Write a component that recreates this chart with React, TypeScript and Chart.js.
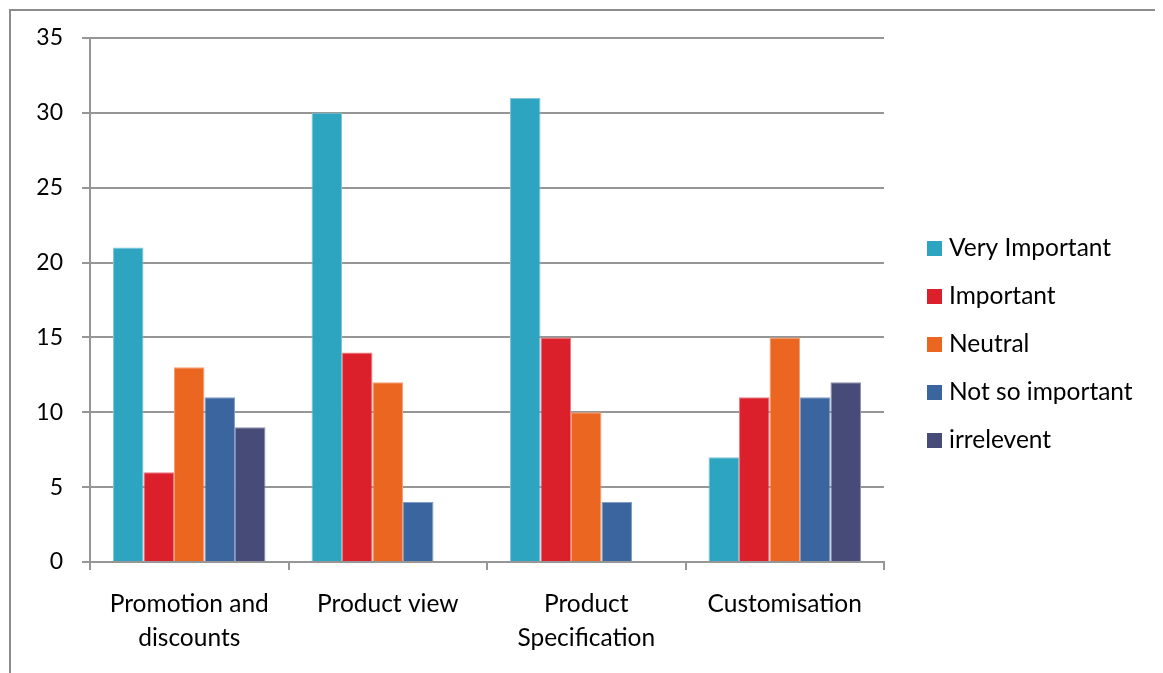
import React, { useEffect, useRef } from "react";
import { Chart, registerables } from "chart.js";

Chart.register(...registerables);

const categories: (string | string[])[] = [
  ["Promotion and", "discounts"],
  "Product view",
  ["Product", "Specification"],
  "Customisation",
];

const seriesNames = ["Very Important", "Important", "Neutral", "Not so important", "irrelevent"];

const veryImportant = [21, 30, 31, 7];
const important = [6, 14, 15, 11];
const neutral = [13, 12, 10, 15];
const notSoImportant = [11, 4, 4, 11];
const irrelevent = [9, 0, 0, 12];

const fillColors = ["#2da4c0", "#db1f2b", "#eb6620", "#3a659f", "#474b77"];
const edgeColors = ["#7ec6d8", "#ea7a80", "#f3a173", "#7f9dc5", "#8a8db0"];

const yTicks = [0, 5, 10, 15, 20, 25, 30, 35];

const FONT = "Lato, 'Noto Sans', sans-serif";
const GRID = "#969696";

// Vertical legend drawn to the right of the plot area
const sideLegend = {
  id: "sideLegend",
  afterDraw(chart: Chart) {
    const { ctx } = chart;
    ctx.save();
    ctx.font = `24.5px ${FONT}`;
    ctx.textBaseline = "middle";
    ctx.textAlign = "left";
    chart.data.datasets.forEach((ds: any, i: number) => {
      const y = 237 + i * 48;
      ctx.fillStyle = ds.backgroundColor;
      ctx.fillRect(916, y - 7, 15, 15);
      ctx.fillStyle = "#000";
      ctx.fillText(ds.label, 938, y);
    });
    ctx.restore();
  },
};

export default function App() {
  const canvasRef = useRef<HTMLCanvasElement | null>(null);

  useEffect(() => {
    document.body.style.overflow = "hidden";
    const canvas = canvasRef.current;
    if (!canvas) return;
    const values = [veryImportant, important, neutral, notSoImportant, irrelevent];
    const chart = new Chart(canvas, {
      type: "bar",
      data: {
        labels: categories,
        datasets: seriesNames.map((name, i) => ({
          label: name,
          data: values[i],
          backgroundColor: fillColors[i],
          borderColor: edgeColors[i],
          borderWidth: 1,
          categoryPercentage: 0.768,
          barPercentage: 1,
        })),
      },
      options: {
        responsive: false,
        animation: false,
        devicePixelRatio: 1,
        layout: { padding: { left: 0, top: 27, right: 275, bottom: 0 } },
        plugins: {
          legend: { display: false },
          tooltip: { enabled: false },
        },
        scales: {
          x: {
            grid: {
              display: true,
              drawOnChartArea: false,
              drawTicks: true,
              tickLength: 8,
              color: GRID,
              lineWidth: 2,
            },
            border: { display: true, color: GRID, width: 2 },
            ticks: {
              color: "#000",
              font: { family: FONT, size: 24.5, lineHeight: 1.35 },
              padding: 18,
              maxRotation: 0,
              autoSkip: false,
            },
            afterFit(scale: any) {
              scale.height = 111;
            },
          },
          y: {
            min: 0,
            max: 35,
            afterBuildTicks(scale: any) {
              scale.ticks = yTicks.map((v) => ({ value: v }));
            },
            grid: {
              color: GRID,
              lineWidth: 2,
              tickLength: 8,
              drawTicks: true,
            },
            border: { display: true, color: GRID, width: 2 },
            ticks: {
              color: "#000",
              font: { family: FONT, size: 23 },
              padding: 19,
            },
            afterFit(scale: any) {
              scale.width = 79;
              scale.paddingTop = 0;
              scale.paddingBottom = 0;
            },
          },
        },
      },
      plugins: [sideLegend],
    });
    return () => chart.destroy();
  }, []);

  return (
    <div
      style={{
        position: "relative",
        top: 1,
        marginLeft: 1,
        width: 1152,
        height: 680,
        boxSizing: "border-box",
        borderTop: "2px solid #8c8c8c",
        borderLeft: "2px solid #8c8c8c",
        borderRight: "2px solid #8c8c8c",
        background: "#fff",
      }}
    >
      <canvas ref={canvasRef} width={1148} height={662} style={{ display: "block" }} />
    </div>
  );
}
